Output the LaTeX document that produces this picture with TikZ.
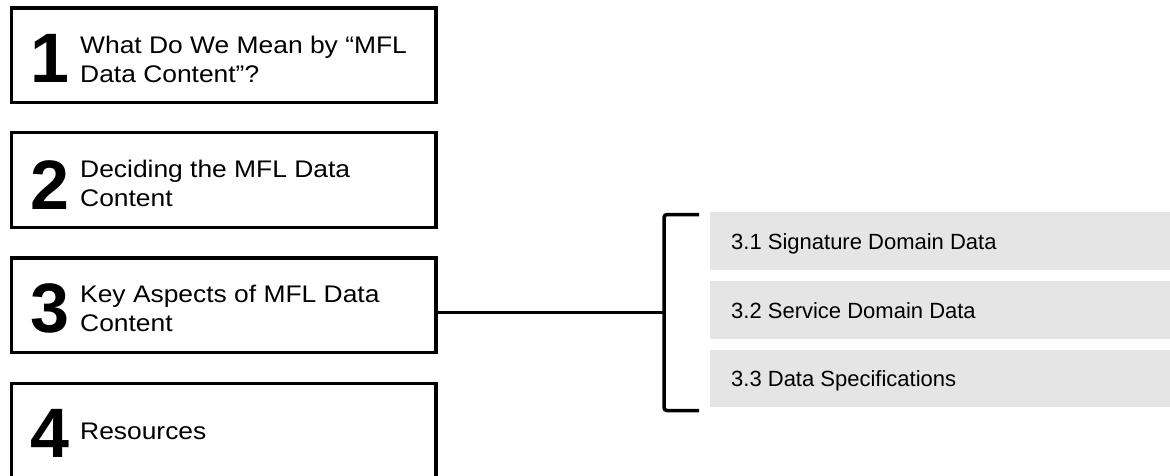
\documentclass[tikz,border=0pt]{standalone}
\usepackage{fontspec}
\setmainfont{Liberation Sans}
\newfontfamily\topicfont[FakeStretch=1.1]{Liberation Sans}
\usepackage{tikz}

\tikzset{
  topicbox/.style={draw, line width=3.5pt, minimum width=424.5pt, minimum height=94.5pt, inner sep=0pt},
  topicnum/.style={anchor=west, inner sep=0pt, font=\fontsize{70}{70}\selectfont\bfseries},
  topictxt/.style={anchor=west, inner sep=0pt, align=left, font=\topicfont\fontsize{24}{29}\selectfont},
  subbox/.style={fill=black!10, minimum width=470pt, minimum height=57.5pt, anchor=north west, inner sep=0pt},
  subtxt/.style={anchor=base west, inner sep=0pt, font=\fontsize{22}{26}\selectfont},
}

\begin{document}
\begin{tikzpicture}[x=1pt,y=-1pt]
\useasboundingbox (0,0) rectangle (1170,476);
% Topic boxes
\node [topicbox] (box1) at (223.5,55.3) {};
\node [topicbox] (box2) at (223.5,180) {};
\node [topicbox] (box3) at (223.5,305.2) {};
\node [topicbox] (box4) at (223.5,430.5) {};
% Numbers
\node [topicnum] (num1) at (30,58) {1};
\node [topicnum] (num2) at (30,185) {2};
\node [topicnum] (num3) at (30,308) {3};
\node [topicnum] (num4) at (30,433) {4};
% Text Node
\node [topictxt] (txt1) at (80,59.5) {What Do We Mean by “MFL\\Data Content”?};
\node [topictxt] (txt2) at (80,183.5) {Deciding the MFL Data\\Content};
\node [topictxt] (txt3) at (80,308.5) {Key Aspects of MFL Data\\Content};
\node [topictxt] (txt4) at (80,431) {Resources};
% Sub-topics
\node [subbox] (sub1) at (710,212) {};
\node [subbox] (sub2) at (710,281) {};
\node [subbox] (sub3) at (710,349.3) {};
\node [subtxt] (subtxt1) at (731,249) {3.1 Signature Domain Data};
\node [subtxt] (subtxt2) at (731,318) {3.2 Service Domain Data};
\node [subtxt] (subtxt3) at (731,386.3) {3.3 Data Specifications};
%Bracket
\coordinate (brk) at (664,312.5);
\draw [line width=3.5pt, rounded corners=3pt] (brk) ++(35,-98) -- ++(-35,0) -- ++(0,196) -- ++(35,0);
%Straight Lines
\draw [line width=3.5pt] (box3.east |- brk) -- (brk);
\end{tikzpicture}
\end{document}
